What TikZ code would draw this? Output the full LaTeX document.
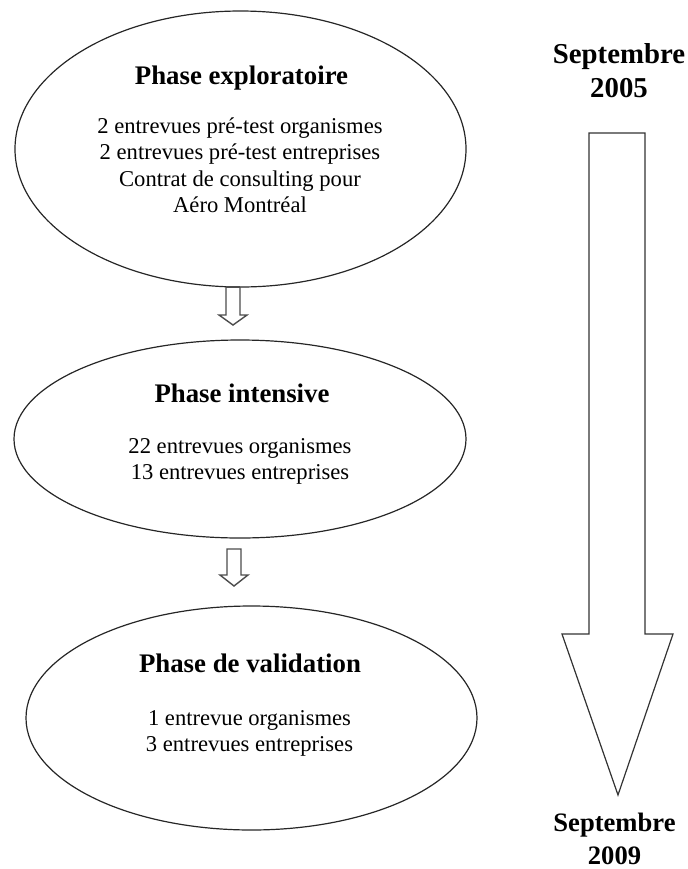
\documentclass[tikz,border=0pt]{standalone}
\usepackage{fontspec}
\setmainfont{Liberation Serif}
\usetikzlibrary{shapes.geometric}
\begin{document}
\begin{tikzpicture}[x=0.5pt,y=-0.5pt,
  phase/.style={draw=black!85, line width=0.6pt, ellipse, inner sep=0pt},
  ttl/.style={anchor=north, inner sep=0pt, font=\fontsize{13.4}{16}\selectfont\bfseries},
  body/.style={anchor=north, inner sep=0pt, align=center, font=\fontsize{11.3}{13.3}\selectfont},
  datetop/.style={anchor=north, inner sep=0pt, align=center, font=\fontsize{14.4}{17}\selectfont\bfseries},
  datebot/.style={anchor=north, inner sep=0pt, align=center, font=\fontsize{13.3}{16.5}\selectfont\bfseries},
  blockarrow/.style={draw=black!70, line width=0.7pt, line join=miter},
  bigarrow/.style={draw=black!80, line width=0.6pt, line join=miter}]
\useasboundingbox (0,0) rectangle (688,869);

% ellipses
\node[phase, minimum width=225.5pt, minimum height=138pt] (e1) at (240.5,149) {};
\node[phase, minimum width=226pt, minimum height=99pt] (e2) at (240,439) {};
\node[phase, minimum width=225.5pt, minimum height=112pt] (e3) at (251.5,718) {};

% texts
\node[ttl] (t1) at (241.5,65) {Phase exploratoire};
\node[body] (b1) at (240,117) {2 entrevues pré-test organismes\\2 entrevues pré-test entreprises\\Contrat de consulting pour\\Aéro Montréal};
\node[ttl] (t2) at (242,383) {Phase intensive};
\node[body] (b2) at (240,438) {22 entrevues organismes\\13 entrevues entreprises};
\node[ttl] (t3) at (250,653) {Phase de validation};
\node[body] (b3) at (249.5,710) {1 entrevue organismes\\3 entrevues entreprises};

% small block arrows
\coordinate (a1) at (233,287);
\coordinate (a2) at (234,549);
\draw[blockarrow] (a1) ++(-7,0) -- ++(0,28) -- ++(-7,0) -- ++(14,10) -- ++(14,-10) -- ++(-7,0) -- ++(0,-28);
\draw[blockarrow] (a2) ++(-7,0) -- ++(14,0) -- ++(0,26) -- ++(7,0) -- ++(-14,11) -- ++(-14,-11) -- ++(7,0) -- cycle;
\draw[blockarrow] (a1) ++(-7,0) -- ++(14,0);

% big timeline arrow
\coordinate (g) at (617,133);
\draw[bigarrow] (g) ++(-28,0) -- ++(56,0) -- ++(0,501) -- ++(28,0) -- ++(-55,161) -- ++(-56,-161) -- ++(27,0) -- cycle;

\node[datetop] (d1) at (619,43) {Septembre\\2005};
\node[datebot] (d2) at (614.5,813) {Septembre\\2009};
\end{tikzpicture}
\end{document}
